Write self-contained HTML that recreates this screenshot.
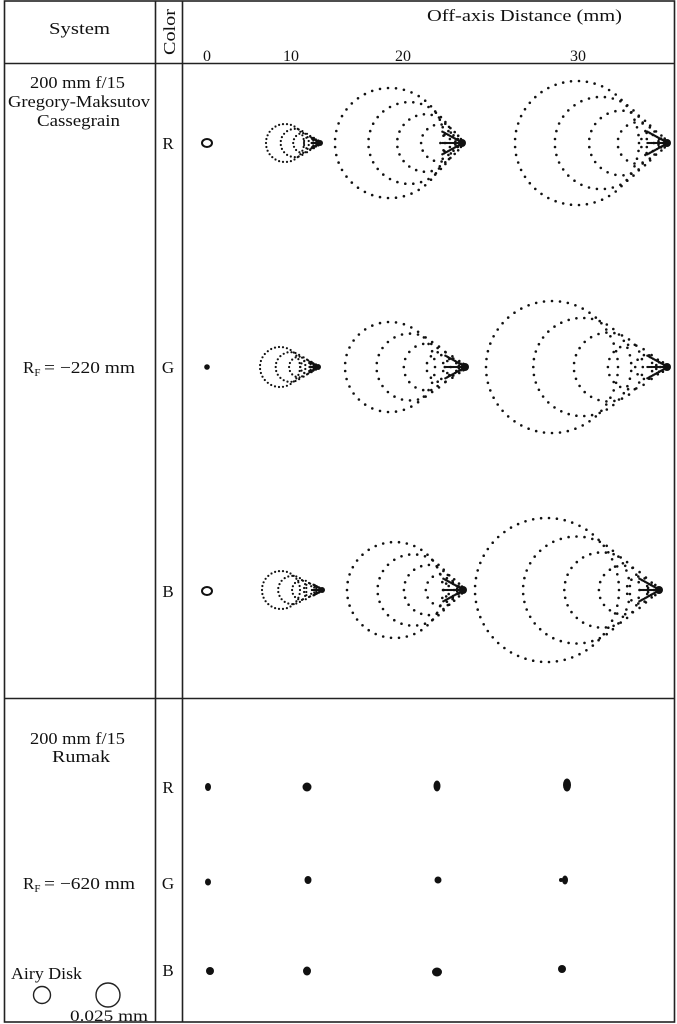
<!DOCTYPE html>
<html><head><meta charset="utf-8"><style>
html,body{margin:0;padding:0;background:#fff}
svg{display:block}
text{font-family:"Liberation Serif",serif;fill:#111}
</style></head><body>
<svg id="s" width="677" height="1024" viewBox="0 0 677 1024" xmlns="http://www.w3.org/2000/svg">
<rect x="0" y="0" width="677" height="1024" fill="#fff"/>
<g stroke="#222" stroke-width="1.6" fill="none">
<rect x="4.5" y="1" width="670" height="1021"/>
<line x1="155.5" y1="1" x2="155.5" y2="1022"/>
<line x1="182.5" y1="1" x2="182.5" y2="1022"/>
<line x1="4.5" y1="63.5" x2="675" y2="63.5"/>
<line x1="4.5" y1="698.5" x2="675" y2="698.5"/>
</g>
<text x="49" y="34" font-size="17" textLength="61" lengthAdjust="spacingAndGlyphs">System</text>
<text transform="translate(175,55) rotate(-90)" font-size="17" textLength="46" lengthAdjust="spacingAndGlyphs">Color</text>
<text x="427" y="21" font-size="17" textLength="195" lengthAdjust="spacingAndGlyphs">Off-axis Distance (mm)</text>
<text x="207" y="61" font-size="16" text-anchor="middle">0</text>
<text x="291" y="61" font-size="16" text-anchor="middle">10</text>
<text x="403" y="61" font-size="16" text-anchor="middle">20</text>
<text x="578" y="61" font-size="16" text-anchor="middle">30</text>
<text x="30" y="88" font-size="17" textLength="95" lengthAdjust="spacingAndGlyphs">200 mm f/15</text>
<text x="8" y="107" font-size="17" textLength="142" lengthAdjust="spacingAndGlyphs">Gregory-Maksutov</text>
<text x="37" y="126" font-size="17" textLength="83" lengthAdjust="spacingAndGlyphs">Cassegrain</text>
<text x="168" y="149" font-size="17" text-anchor="middle">R</text>
<text x="168" y="373" font-size="17" text-anchor="middle">G</text>
<text x="168" y="597" font-size="17" text-anchor="middle">B</text>
<text x="23" y="373" font-size="17">R<tspan font-size="11" dy="3">F</tspan></text>
<text x="44" y="373" font-size="17" textLength="91" lengthAdjust="spacingAndGlyphs">= −220 mm</text>
<text x="30" y="744" font-size="17" textLength="95" lengthAdjust="spacingAndGlyphs">200 mm f/15</text>
<text x="52" y="762" font-size="17" textLength="58" lengthAdjust="spacingAndGlyphs">Rumak</text>
<text x="168" y="793" font-size="17" text-anchor="middle">R</text>
<text x="168" y="889" font-size="17" text-anchor="middle">G</text>
<text x="168" y="976" font-size="17" text-anchor="middle">B</text>
<text x="23" y="889" font-size="17">R<tspan font-size="11" dy="3">F</tspan></text>
<text x="44" y="889" font-size="17" textLength="91" lengthAdjust="spacingAndGlyphs">= −620 mm</text>
<text x="11" y="979" font-size="17" textLength="71" lengthAdjust="spacingAndGlyphs">Airy Disk</text>
<text x="70" y="1021" font-size="16" textLength="78" lengthAdjust="spacingAndGlyphs">0.025 mm</text>
<circle cx="42" cy="995" r="8.5" stroke="#222" stroke-width="1.4" fill="none"/>
<circle cx="108" cy="995" r="12" stroke="#222" stroke-width="1.4" fill="none"/>
<g id="dots" fill="#111"></g>
</svg>
<script>
var g=document.getElementById('dots'),NS='http://www.w3.org/2000/svg';
function c(x,y,r){var e=document.createElementNS(NS,'circle');e.setAttribute('cx',x.toFixed(1));e.setAttribute('cy',y.toFixed(1));e.setAttribute('r',r);g.appendChild(e);}
function el(x,y,rx,ry,fill){var e=document.createElementNS(NS,'ellipse');e.setAttribute('cx',x);e.setAttribute('cy',y);e.setAttribute('rx',rx);e.setAttribute('ry',ry);if(!fill){e.setAttribute('fill','none');e.setAttribute('stroke','#111');e.setAttribute('stroke-width','2');}g.appendChild(e);}
function spot(tip,y,R,left){
  var k=(tip-left)/R-1, N=6;
  var big=R>30;
  for(var i=1;i<=N;i++){
    var f=i/N, r=R*(0.35*f+0.65*f*f), cx=tip-k*r;
    var sp=big?8:4;
    var n=Math.max(8,Math.round(2*Math.PI*r/sp));
    for(var j=0;j<n;j++){var a=2*Math.PI*(j+0.5*(i%2))/n;c(cx+r*Math.cos(a),y+r*Math.sin(a),big?1.3:1.1);}
  }
  var L=big?22:10;
  for(var t=0;t<16;t++){var d=t*L/16;c(tip-2-d,y+d*0.55,1.2);c(tip-2-d,y-d*0.55,1.2);c(tip-2-d,y,1.1);}
  el(tip-3,y,big?4:3,big?4:3,true);
}
spot(323,143,19,266);spot(465,143,55,335);spot(670,143,62,515);
spot(321,367,20,260);spot(468,367,45,345);spot(670,367,66,486);
spot(325,590,19,262);spot(466,590,48,347);spot(662,590,72,475);
el(207,143,5,4,false);c(207,367,2.8);el(207,591,5,4,false);
el(208,787,3,4,true);el(307,787,4.5,4.5,true);el(437,786,3.5,5.5,true);el(567,785,4,6.5,true);
el(208,882,3,3.5,true);el(308,880,3.5,4,true);el(438,880,3.5,3.5,true);el(565,880,3,4.5,true);c(561,880,2);
el(210,971,4,4,true);el(307,971,4,4.5,true);el(437,972,5,4.5,true);el(562,969,4,4,true);
</script>
</body></html>
